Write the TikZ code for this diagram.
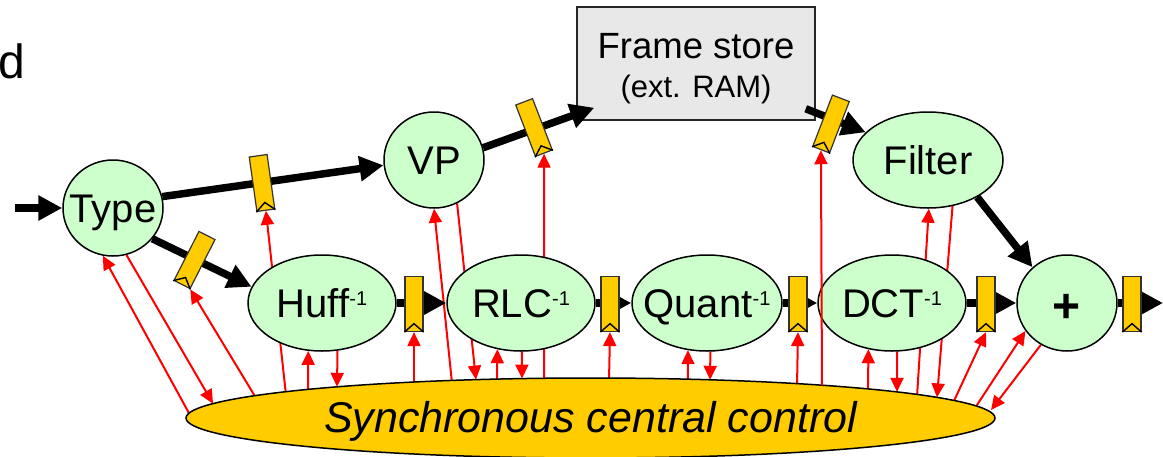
\documentclass[tikz,border=0pt]{standalone}
\usepackage{fontspec}
\setmainfont{Liberation Sans}
\usetikzlibrary{arrows.meta,calc,shapes.geometric}
\pgfdeclarelayer{background}
\pgfsetlayers{background,main}
\definecolor{ngreen}{HTML}{CCFFCC}
\definecolor{ngold}{HTML}{FFCC00}
\definecolor{fsgray}{HTML}{E8E8E8}
\definecolor{fifoborder}{HTML}{333333}
\newcommand\supinv{\raisebox{12pt}{\fontsize{20}{20}\selectfont -1}}
\newcommand\fifo[3]{%
  \node[fifo, rotate=#3] (#1) at (#2) {};
  \draw[chev] (#1.south west) -- ($(#1.south)!0.15!(#1.north)$) -- (#1.south east);}
\begin{document}
\begin{tikzpicture}[x=1pt,y=-1pt,
  proc/.style={ellipse, draw=black, line width=1.5pt, fill=ngreen, inner sep=0pt,
    minimum height=96pt, text height=28.6pt, text depth=0pt,
    font=\fontsize{40}{44}\selectfont},
  fifo/.style={rectangle, draw=fifoborder, line width=1.2pt, fill=ngold,
    minimum width=18pt, minimum height=55pt, inner sep=0pt},
  chev/.style={draw=black, line width=1.4pt, line join=miter},
  flow/.style={draw=black, line width=7.5pt, -{Triangle[length=24pt,width=24pt]}},
  ctrl/.style={draw=red, line width=2pt, -{Triangle[length=14pt,width=13pt]}},
]
\useasboundingbox (0,0) rectangle (1163,456);

% control ellipse
\node[ellipse, draw=black, line width=1.5pt, fill=ngold, inner sep=0pt,
  minimum width=809pt, minimum height=80pt, text height=28pt, text depth=0pt,
  font=\fontsize{43}{46}\selectfont\itshape] (ctl) at (590.5,418)
  {\makebox[0pt]{Synchronous central control}};

% label d
\node[anchor=base east, inner sep=0pt, font=\fontsize{48}{52}\selectfont] (dlabel) at (25,78) {d};

% processing nodes
\node[proc, minimum width=100pt] (type) at (113,208) {\makebox[0pt]{Type}};
\node[proc, minimum width=100pt] (vp) at (434,160) {\makebox[0pt]{VP}};
\node[proc, minimum width=150pt] (filter) at (928,160) {\makebox[0pt]{Filter}};
\node[proc, minimum width=148pt] (huff) at (322,303) {\makebox[0pt]{Huff\supinv}};
\node[proc, minimum width=148pt] (rlc) at (521,303) {\makebox[0pt]{RLC\supinv}};
\node[proc, minimum width=150pt] (quant) at (707,303) {\makebox[0pt]{Quant\supinv}};
\node[proc, minimum width=148pt] (dct) at (892,303) {\makebox[0pt]{DCT\supinv}};
\node[proc, minimum width=100pt, text height=39pt,
  font=\fontsize{48}{52}\selectfont\bfseries] (plus) at (1067,303) {\makebox[0pt]{+}};

% frame store
\node[rectangle, draw=black!85, line width=1.5pt, fill=fsgray, inner sep=0pt,
  minimum width=238pt, minimum height=113pt] (fs) at (696,63.5) {};
\node[anchor=base, inner sep=0pt, font=\fontsize{36.5}{40}\selectfont] (fst1) at (696,58) {Frame store};
\node[anchor=base, inner sep=0pt, font=\fontsize{31}{34}\selectfont] (fst2) at (696,97) {(ext. RAM)};

% free ends
\coordinate (in0) at (15,208);
\coordinate (out0) at (1163,303);
\coordinate (fsin) at ($(fs.south west)+(18,-13)$);
\coordinate (fsout) at ($(fs.south east)+(-10,-12)$);

% data flow
\draw[flow] (in0) -- (type.180);
\draw[flow] (type.13) -- (vp.186);
\draw[flow] (type.-38) -- (huff.167);
\draw[flow] (vp.14) -- (fsin);
\draw[flow] (fsout) -- (filter.156);
\draw[flow] (filter.-37) -- (plus.134);
\draw[flow] (huff.east) -- (rlc.west);
\draw[flow] (rlc.east) -- (quant.west);
\draw[flow] (quant.east) -- (dct.west);
\draw[flow] (dct.east) -- (plus.west);
\draw[flow] (plus.east) -- (out0);

% FIFOs
\fifo{f1}{262,183}{8}
\fifo{f2}{194.5,260}{-27}
\fifo{f3}{534,127.5}{21}
\fifo{f4}{831,124}{-21}
\fifo{f5}{414,304}{0}
\fifo{f6}{610,304}{0}
\fifo{f7}{798,304}{0}
\fifo{f8}{986,304}{0}
\fifo{f9}{1132,304}{0}

% control points on the ellipse
\coordinate (k1) at (190,415);
\coordinate (k2) at (213,403.6);
\coordinate (k3) at (256,398);
\coordinate (k4) at (286,395);
\coordinate (k5) at (308,392);
\coordinate (k6) at (337,386.8);
\coordinate (k7) at (414,385);
\coordinate (k8) at (452,383);
\coordinate (k9) at (476,379.6);
\coordinate (k10) at (497,382);
\coordinate (k11) at (522,378.6);
\coordinate (k12) at (544,381);
\coordinate (k13) at (609,381);
\coordinate (k14) at (688,382);
\coordinate (k15) at (710,379.8);
\coordinate (k16) at (797,386);
\coordinate (k17) at (822,385.3);
\coordinate (k18) at (868,391.5);
\coordinate (k19) at (897,391.9);
\coordinate (k20) at (917,397);
\coordinate (k21) at (937,397.4);
\coordinate (k22) at (953,403);
\coordinate (k23) at (975,408);
\coordinate (k24) at (991,410);

\draw[ctrl] (k17) -- (f4.south);

\begin{pgfonlayer}{background}
\draw[ctrl] (k1) -- (type.-102);
\draw[ctrl] (type.-74.5) -- (k2);
\draw[ctrl] (k3) -- (f2.south east);
\draw[ctrl] (k4) -- (f1.south);
\draw[ctrl] (k5) -- (huff.-106.5);
\draw[ctrl] (huff.-72.3) -- (k6);
\draw[ctrl] (k7) -- (f5.south);
\draw[ctrl] (k8) -- (vp.-90);
\draw[ctrl] (vp.-62) -- (k9);
\draw[ctrl] (k10) -- (rlc.-117.9);
\draw[ctrl] (rlc.-89) -- (k11);
\draw[ctrl] (k12) -- (f3.south);
\draw[ctrl] (k13) -- (f6.south);
\draw[ctrl] (k14) -- (quant.-112.25);
\draw[ctrl] (quant.-86.4) -- (k15);
\draw[ctrl] (k16) -- (f7.south);
\draw[ctrl] (k18) -- (dct.-117.9);
\draw[ctrl] (dct.-84) -- (k19);
\draw[ctrl] (k20) -- (filter.-89);
\draw[ctrl] (filter.-62.2) -- (k21);
\draw[ctrl] (k22) -- (f8.south);
\draw[ctrl] (k23) -- (plus.-146.3);
\draw[ctrl] (plus.-122.7) -- (k24);
\end{pgfonlayer}
\end{tikzpicture}
\end{document}
